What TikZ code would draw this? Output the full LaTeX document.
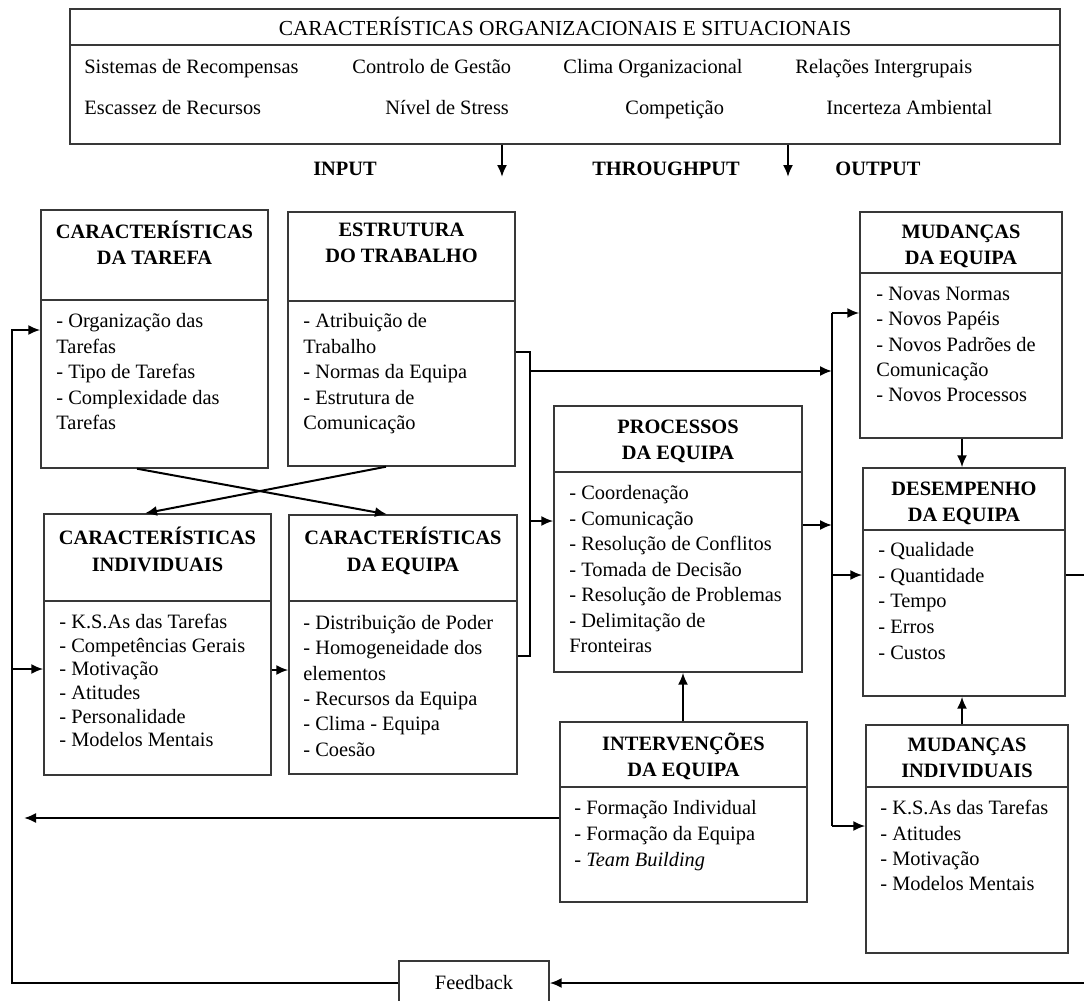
\documentclass[tikz,border=0pt]{standalone}
\usepackage{fontspec}
\setmainfont{Liberation Serif}
\usetikzlibrary{arrows.meta}
\begin{document}
\begin{tikzpicture}[x=0.5pt,y=-0.5pt,
  box/.style={draw=black!78, line width=0.7pt, inner sep=0pt, fill=white},
  divline/.style={draw=black!78, line width=0.7pt},
  hdr/.style={font={\bfseries\fontsize{10.2}{#1}\selectfont}, align=center, inner sep=0pt, anchor=north, yshift=-3pt, execute at begin node={\rule{0pt}{10pt}}},
  hdr/.default=13,
  body/.style={font={\fontsize{10.2}{#1}\selectfont}, align=left, inner sep=0pt, anchor=north west, yshift=-3pt, execute at begin node={\rule{0pt}{10pt}}},
  body/.default=12.8,
  lbl/.style={font={\fontsize{10.2}{12}\selectfont}, inner sep=0pt, anchor=base west},
  iolbl/.style={font={\bfseries\fontsize{10.2}{12}\selectfont}, inner sep=0pt, anchor=base},
  conn/.style={line width=1pt, black},
  arr/.style={conn, -{Latex[length=6pt,width=5pt]}}
]
\useasboundingbox (0,0) rectangle (1084,1001);

% ---------------- top box ----------------
\node[box, minimum width=495pt, minimum height=67.5pt] (org) at (565,76.5) {};
\draw[divline] (org.west |- 0,45) -- (org.east |- 0,45);
\node[font={\fontsize{10.7}{12}\selectfont}, inner sep=0pt, anchor=base] (orgt) at (565,35) {CARACTERÍSTICAS ORGANIZACIONAIS E SITUACIONAIS};
\node[lbl] (o1) at (84,74) {Sistemas de Recompensas};
\node[lbl] (o2) at (352,74) {Controlo de Gestão};
\node[lbl] (o3) at (563,74) {Clima Organizacional};
\node[lbl] (o4) at (795,74) {Relações Intergrupais};
\node[lbl] (o5) at (84,114) {Escassez de Recursos};
\node[lbl] (o6) at (385,114) {Nível de Stress};
\node[lbl] (o7) at (625,114) {Competição};
\node[lbl] (o8) at (826,114) {Incerteza Ambiental};

\node[iolbl] (inp) at (345,175) {INPUT};
\node[iolbl] (thr) at (666,175) {THROUGHPUT};
\node[iolbl] (outp) at (878,175) {OUTPUT};

\coordinate (in1) at (502,177);
\coordinate (in2) at (788,177);
\draw[arr] (org.south -| in1) -- (in1);
\draw[arr] (org.south -| in2) -- (in2);

% ---------------- boxes ----------------
% Caracteristicas da tarefa
\node[box, minimum width=113.5pt, minimum height=129pt] (tarefa) at (154.5,339) {};
\draw[divline] (tarefa.west |- 0,300) -- (tarefa.east |- 0,300);
\node[hdr] (tarefah) at (154.5,215) {CARACTERÍSTICAS\\DA TAREFA};
\node[body=12.8] (tarefab) at (56,307) {- Organização das\\Tarefas\\- Tipo de Tarefas\\- Complexidade das\\Tarefas};

% Estrutura do trabalho
\node[box, minimum width=113.5pt, minimum height=127pt] (estrut) at (401.5,339) {};
\draw[divline] (estrut.west |- 0,301) -- (estrut.east |- 0,301);
\node[hdr] (estruth) at (401.5,217) {ESTRUTURA\\DO TRABALHO};
\node[body=12.8] (estrutb) at (303,307) {- Atribuição de\\Trabalho\\- Normas da Equipa\\- Estrutura de\\Comunicação};

% Mudancas da equipa
\node[box, minimum width=101pt, minimum height=113pt] (mudeq) at (961,325) {};
\draw[divline] (mudeq.west |- 0,273) -- (mudeq.east |- 0,273);
\node[hdr=12.6] (mudeqh) at (961,219) {MUDANÇAS\\DA EQUIPA};
\node[body=12.6] (mudeqb) at (876,281) {- Novas Normas\\- Novos Papéis\\- Novos Padrões de\\Comunicação\\- Novos Processos};

% Processos da equipa
\node[box, minimum width=124pt, minimum height=133pt] (proc) at (678,539) {};
\draw[divline] (proc.west |- 0,472) -- (proc.east |- 0,472);
\node[hdr=12.6] (proch) at (678,414) {PROCESSOS\\DA EQUIPA};
\node[body=12.75] (procb) at (569,479) {- Coordenação\\- Comunicação\\- Resolução de Conflitos\\- Tomada de Decisão\\- Resolução de Problemas\\- Delimitação de\\Fronteiras};

% Desempenho da equipa
\node[box, minimum width=101pt, minimum height=114pt] (desemp) at (964,582) {};
\draw[divline] (desemp.west |- 0,530) -- (desemp.east |- 0,530);
\node[hdr=12.6] (desemph) at (964,476) {DESEMPENHO\\DA EQUIPA};
\node[body=12.85] (desempb) at (878,536) {- Qualidade\\- Quantidade\\- Tempo\\- Erros\\- Custos};

% Caracteristicas individuais
\node[box, minimum width=113.5pt, minimum height=130.5pt] (indiv) at (157.5,644.5) {};
\draw[divline] (indiv.west |- 0,601) -- (indiv.east |- 0,601);
\node[hdr=13.5] (indivh) at (157.5,521) {CARACTERÍSTICAS\\INDIVIDUAIS};
\node[body=11.8] (indivb) at (59,608) {- K.S.As das Tarefas\\- Competências Gerais\\- Motivação\\- Atitudes\\- Personalidade\\- Modelos Mentais};

% Caracteristicas da equipa
\node[box, minimum width=114pt, minimum height=129.5pt] (caract) at (403,644.5) {};
\draw[divline] (caract.west |- 0,601) -- (caract.east |- 0,601);
\node[hdr=13.5] (caracth) at (403,521) {CARACTERÍSTICAS\\DA EQUIPA};
\node[body=12.65] (caractb) at (303,609) {- Distribuição de Poder\\- Homogeneidade dos\\elementos\\- Recursos da Equipa\\- Clima - Equipa\\- Coesão};

% Intervencoes da equipa
\node[box, minimum width=123.5pt, minimum height=90pt] (interv) at (683.5,812) {};
\draw[divline] (interv.west |- 0,787) -- (interv.east |- 0,787);
\node[hdr=12.6] (intervh) at (683.5,727) {INTERVENÇÕES\\DA EQUIPA};
\node[body=13] (intervb) at (574,794) {- Formação Individual\\- Formação da Equipa\\- \textit{Team Building}};

% Mudancas individuais
\node[box, minimum width=101pt, minimum height=114pt] (mudind) at (967,839) {};
\draw[divline] (mudind.west |- 0,787) -- (mudind.east |- 0,787);
\node[hdr=13] (mudindh) at (967,732) {MUDANÇAS\\INDIVIDUAIS};
\node[body=12.65] (mudindb) at (880,794) {- K.S.As das Tarefas\\- Atitudes\\- Motivação\\- Modelos Mentais};

% Feedback
\node[box, minimum width=75pt, minimum height=22pt, font={\fontsize{10.2}{12}\selectfont}] (fb) at (474,983) {Feedback};

% ---------------- connectors ----------------
% crossing arrows
\draw[arr] (tarefa.south -| 137,0) -- (caract.north -| 387,0);
\draw[arr] (estrut.south -| 386,0) -- (indiv.north -| 145,0);

% individual -> team characteristics
\coordinate (ic) at (0,670);
\draw[arr] (indiv.east |- ic) -- (caract.west |- ic);

% bus at x=530
\coordinate (b1t) at (530,352);
\coordinate (b1b) at (530,656);
\coordinate (b1u) at (530,371);
\coordinate (b1m) at (530,521);
\draw[conn] (estrut.east |- b1t) -- (b1t) -- (b1b) -- (caract.east |- b1b);
\draw[arr] (b1m) -- (proc.west |- b1m);

% bus at x=832
\coordinate (b2t) at (832,313);
\coordinate (b2b) at (832,826);
\coordinate (b2u) at (832,371);
\coordinate (b2p) at (832,525);
\coordinate (b2d) at (832,575);
\draw[conn] (b2t) -- (b2b);
\draw[arr] (b1u) -- (b2u);
\draw[arr] (proc.east |- b2p) -- (b2p);
\draw[arr] (b2t) -- (mudeq.west |- b2t);
\draw[arr] (b2d) -- (desemp.west |- b2d);
\draw[arr] (b2b) -- (mudind.west |- b2b);

% into / out of performance
\coordinate (vx) at (962,0);
\draw[arr] (mudeq.south -| vx) -- (desemp.north -| vx);
\draw[arr] (mudind.north -| vx) -- (desemp.south -| vx);
\coordinate (dOut) at (1084,575);
\draw[conn] (desemp.east |- dOut) -- (dOut);

% interventions
\draw[arr] (interv.north -| 683,0) -- (proc.south -| 683,0);
\coordinate (ivL) at (24,818);
\draw[arr] (interv.west |- ivL) -- (ivL);

% feedback loop
\coordinate (fbR) at (1084,983);
\coordinate (fbL) at (12,330);
\coordinate (fbM) at (12,669);
\draw[arr] (fbR) -- (fb.east);
\draw[arr] (fb.west) -| (fbL) -- (tarefa.west |- fbL);
\draw[arr] (fbM) -- (indiv.west |- fbM);
\end{tikzpicture}
\end{document}
